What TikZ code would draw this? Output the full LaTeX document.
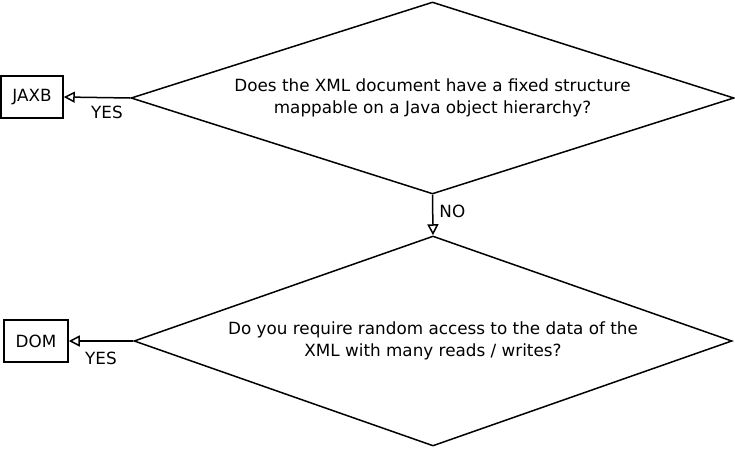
\documentclass[tikz,border=0pt]{standalone}
\usepackage{fontspec}
\setmainfont{DejaVu Sans}
\usetikzlibrary{shapes.geometric,arrows.meta}
\begin{document}
\begin{tikzpicture}[x=1pt,y=-1pt,
  dia/.style={draw,diamond,line width=1.5pt,inner sep=0pt,align=center,font=\fontsize{16.8}{21.5}\selectfont},
  box/.style={draw,line width=1.5pt,rectangle,inner sep=0pt,font=\fontsize{16.8}{20}\selectfont},
  arr/.style={line width=1.5pt,-{Triangle[open,length=11pt,width=11pt]}},
  lab/.style={font=\fontsize{16.8}{20}\selectfont}]
\useasboundingbox (0,0) rectangle (735,460);
\node[dia,minimum width=603pt,minimum height=192pt,aspect=3.14] (d1) at (432.5,98)
  {Does the XML document have a fixed structure\\mappable on a Java object hierarchy?};
\node[dia,minimum width=598pt,minimum height=210pt,aspect=2.85] (d2) at (433,341)
  {Do you require random access to the data of the\\XML with many reads / writes?};
\node[box,minimum width=62pt,minimum height=42pt] (jaxb) at (32,97) {JAXB};
\node[box,minimum width=64pt,minimum height=42pt] (dom) at (36,341) {DOM};
\draw[arr] (d1.west) -- (jaxb.east) node[lab,pos=0.35,below,inner sep=8pt] {YES};
\draw[arr] (d1.south) -- (d2.north) node[lab,pos=0.42,right,inner sep=6pt] {NO};
\draw[arr] (d2.west) -- (dom.east) node[lab,pos=0.5,below,inner sep=10pt] {YES};
\end{tikzpicture}
\end{document}
